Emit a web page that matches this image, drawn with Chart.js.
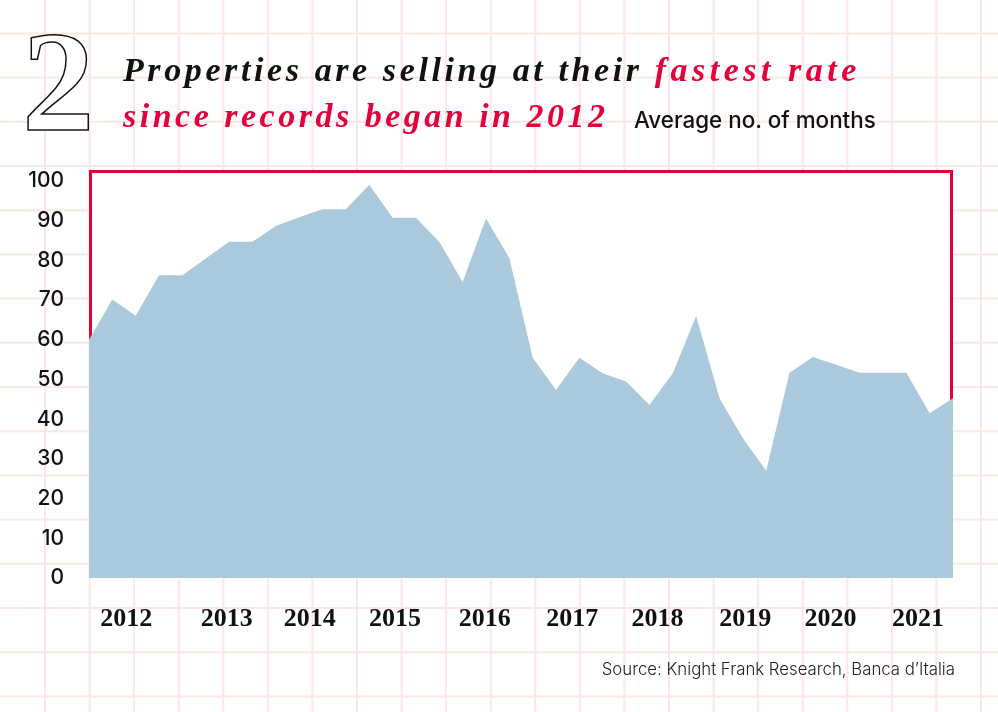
<!DOCTYPE html>
<html>
<head>
<meta charset="utf-8">
<script src="https://cdn.jsdelivr.net/npm/chart.js@4.4.1/dist/chart.umd.min.js"></script>
<style>
  html, body { margin: 0; padding: 0; background: #fff; }
  #wrap { position: relative; width: 998px; height: 712px; overflow: hidden; }
  #chart { position: absolute; left: 0; top: 0; }
  .t { position: absolute; white-space: nowrap; line-height: 1; }
  .big2 { left: 22px; top: 9px; font-family: "Liberation Serif"; font-weight: bold; font-size: 145px; color: #fff; -webkit-text-stroke: 1.5px #111; }
  .head { left: 123px; font-family: "Liberation Serif"; font-style: italic; font-weight: bold; font-size: 34px; letter-spacing: 3.6px; color: #111; }
  .red { color: #e4003b; }
  .unit { left: 634px; top: 109px; font-family: Inter; font-weight: 500; font-size: 22.4px; color: #111; }
  .source { right: 43px; top: 661px; font-family: Inter; font-weight: 300; font-size: 16.8px; color: #222; }
</style>
</head>
<body>
<div id="wrap">
  <canvas id="chart" width="998" height="712"></canvas>
  <div class="t big2">2</div>
  <div class="t head" style="top:53px">Properties are selling at their <span class="red" style="letter-spacing:4.5px">fastest rate</span></div>
  <div class="t head red" style="top:99px;letter-spacing:3.5px">since records began in 2012</div>
  <div class="t unit">Average no. of months</div>
  <div class="t source">Source: Knight Frank Research, Banca d’Italia</div>
</div>
<script>
const quarters = [
  "2012 Q1", "2012 Q2", "2012 Q3", "2012 Q4",
  "2013 Q1", "2013 Q2", "2013 Q3", "2013 Q4",
  "2014 Q1", "2014 Q2", "2014 Q3", "2014 Q4",
  "2015 Q1", "2015 Q2", "2015 Q3", "2015 Q4",
  "2016 Q1", "2016 Q2", "2016 Q3", "2016 Q4",
  "2017 Q1", "2017 Q2", "2017 Q3", "2017 Q4",
  "2018 Q1", "2018 Q2", "2018 Q3", "2018 Q4",
  "2019 Q1", "2019 Q2", "2019 Q3", "2019 Q4",
  "2020 Q1", "2020 Q2", "2020 Q3", "2020 Q4",
  "2021 Q1", "2021 Q2"
];
const months = [
  60, 70.2, 66.1, 76.3, 76.3, 80.5, 84.7, 84.7,
  88.7, 90.9, 92.9, 92.9, 99.1, 90.8, 90.8, 84.7,
  74.6, 90.6, 80.6, 55.5, 47.4, 55.5, 51.6, 49.5,
  43.6, 51.6, 66.0, 45.3, 35.2, 27.0, 51.7, 55.7,
  53.7, 51.7, 51.7, 51.7, 41.5, 45.3
];
// year labels sit where the original puts them, not on quarter boundaries
const yearLabels = ["2012", "2013", "2014", "2015", "2016", "2017", "2018", "2019", "2020", "2021"];
const yearPos = [1.6, 5.9, 9.45, 13.1, 16.95, 20.7, 24.35, 28.1, 31.75, 35.5];
const yTicks = [0, 10, 20, 30, 40, 50, 60, 70, 80, 90, 100];

const RED = "#e4003b";

const backdrop = {
  id: "backdrop",
  beforeDraw(chart) {
    const ctx = chart.ctx;
    ctx.save();
    ctx.fillStyle = "#fff";
    ctx.fillRect(0, 0, chart.width, chart.height);
    ctx.strokeStyle = "#fbe7e4";
    ctx.lineWidth = 2;
    for (let x = 45; x < chart.width; x += 44.57) {
      ctx.beginPath(); ctx.moveTo(x, 0); ctx.lineTo(x, chart.height); ctx.stroke();
    }
    for (let y = 33.4; y < chart.height; y += 44.2) {
      ctx.beginPath(); ctx.moveTo(0, y); ctx.lineTo(chart.width, y); ctx.stroke();
    }
    ctx.restore();
  },
  beforeDatasetsDraw(chart) {
    // white plot panel with a red frame; the area is painted over its lower part
    const ctx = chart.ctx;
    const a = chart.chartArea;
    ctx.save();
    ctx.fillStyle = "#fff";
    ctx.fillRect(a.left, a.top, a.right - a.left, a.bottom - a.top);
    ctx.strokeStyle = RED;
    ctx.lineWidth = 3;
    ctx.beginPath();
    ctx.moveTo(a.left + 1.5, a.bottom);
    ctx.lineTo(a.left + 1.5, a.top + 1.5);
    ctx.lineTo(a.right - 1.5, a.top + 1.5);
    ctx.lineTo(a.right - 1.5, a.bottom);
    ctx.stroke();
    ctx.restore();
  }
};

new Chart(document.getElementById("chart"), {
  type: "line",
  data: {
    labels: quarters,
    datasets: [{
      data: months.map((v, i) => ({ x: i, y: v })),
      fill: "origin",
      backgroundColor: "#aac9dc",
      borderWidth: 0,
      pointRadius: 0,
      tension: 0
    }]
  },
  options: {
    responsive: false,
    animation: false,
    layout: { padding: { left: 0, right: 45, top: 170, bottom: 0 } },
    plugins: { legend: { display: false }, tooltip: { enabled: false } },
    scales: {
      x: {
        type: "linear",
        min: 0,
        max: quarters.length - 1,
        grid: { display: false, drawTicks: false },
        border: { display: false },
        afterBuildTicks: (s) => { s.ticks = yearPos.map(v => ({ value: v })); },
        afterFit: (s) => { s.height = 134; },
        ticks: {
          autoSkip: false,
          maxRotation: 0,
          padding: 26,
          color: "#111",
          font: { family: "Liberation Serif", weight: "bold", size: 26 },
          callback: (v, i) => yearLabels[i]
        }
      },
      y: {
        min: 0,
        max: 102.8,
        grid: { display: false, drawTicks: false },
        border: { display: false },
        afterBuildTicks: (s) => { s.ticks = yTicks.map(v => ({ value: v })); },
        afterFit: (s) => { s.width = 89; },
        ticks: {
          autoSkip: false,
          padding: 25,
          color: "#111",
          font: { family: "Inter", weight: 500, size: 21 }
        }
      }
    }
  },
  plugins: [backdrop]
});
</script>
</body>
</html>
